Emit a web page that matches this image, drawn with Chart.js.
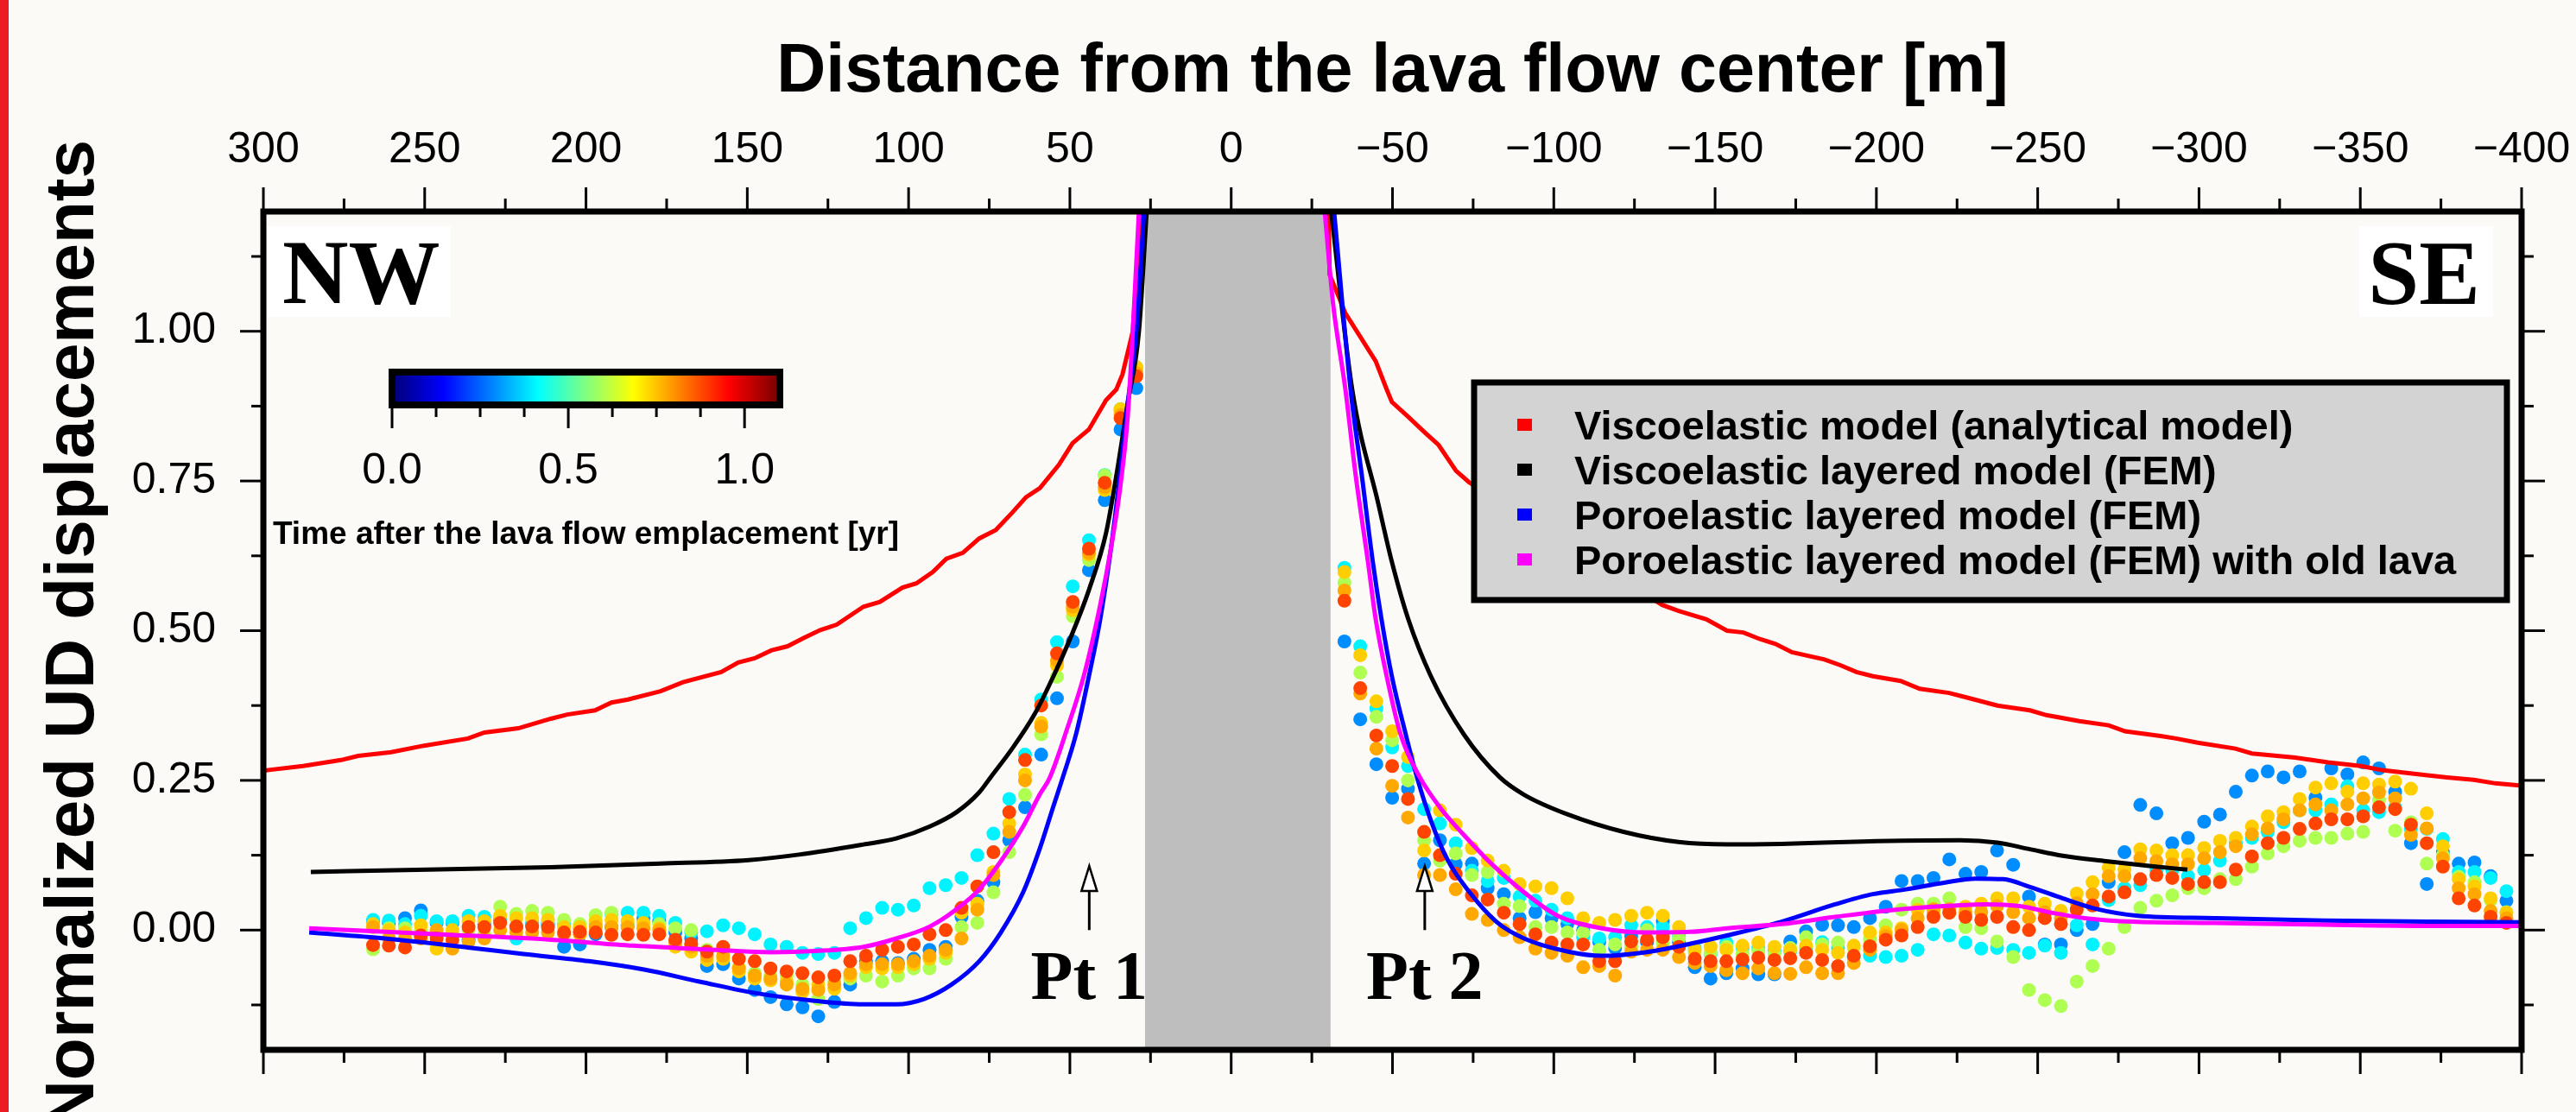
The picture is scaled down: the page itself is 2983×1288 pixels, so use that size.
<!DOCTYPE html>
<html>
<head>
<meta charset="utf-8">
<script src="https://cdn.jsdelivr.net/npm/chart.js@4.4.1/dist/chart.umd.min.js"></script>
<style>
html,body{margin:0;padding:0;background:#fcfaf7;}
canvas{display:block;}
</style>
</head>
<body>
<canvas id="c" width="2983" height="1288"></canvas>
<script>
// ---------------- DATA ----------------
const X_TITLE = 'Distance from the lava flow center [m]';
const Y_TITLE = 'Normalized UD displacements';
const CB_TITLE = 'Time after the lava flow emplacement [yr]';
const SERIES_LABELS = ['Viscoelastic model (analytical model)', 'Viscoelastic layered model (FEM)', 'Poroelastic layered model (FEM)', 'Poroelastic layered model (FEM) with old lava'];
const SERIES_COLORS = ['#ff0000', '#000000', '#0000ff', '#ff00ff'];
const X_TICKS = [300, 275, 250, 225, 200, 175, 150, 125, 100, 75, 50, 25, 0, -25, -50, -75, -100, -125, -150, -175, -200, -225, -250, -275, -300, -325, -350, -375, -400];
const Y_TICKS = [-0.125, 0, 0.125, 0.25, 0.375, 0.5, 0.625, 0.75, 0.875, 1.0, 1.125];
const CB_TICKS = [0, 0.125, 0.25, 0.375, 0.5, 0.625, 0.75, 0.875, 1.0];
const CB_LABELS = [0, 0.5, 1.0];
const CB_RANGE = [0, 1.1];
const LAVA_BAND = [26.7, -30.8];
const PT_X = [44, -60];
const PT_LABELS = ['Pt 1', 'Pt 2'];
const CORNER_LABELS = ['NW', 'SE'];

// observation epochs (yr) of the coloured points
const TIMES = [0.29, 0.40, 0.60, 0.74, 0.78, 0.89];

const X_LEFT = [266.0, 261.1, 256.1, 251.2, 246.3, 241.4, 236.4, 231.5, 226.6, 221.6, 216.7, 211.8, 206.8, 201.9, 197.0, 192.1, 187.1, 182.2, 177.3, 172.3, 167.4, 162.5, 157.5, 152.6, 147.7, 142.8, 137.8, 132.9, 128.0, 123.0, 118.1, 113.2, 108.2, 103.3, 98.4, 93.5, 88.5, 83.6, 78.7, 73.7, 68.8, 63.9, 58.9, 54.0, 49.1, 44.1, 39.2, 34.3, 29.4];
const X_RIGHT = [-35.1, -40.0, -45.0, -49.9, -54.8, -59.8, -64.7, -69.6, -74.6, -79.5, -84.5, -89.4, -94.3, -99.3, -104.2, -109.1, -114.1, -119.0, -124.0, -128.9, -133.8, -138.8, -143.7, -148.6, -153.5, -158.5, -163.4, -168.4, -173.3, -178.2, -183.2, -188.1, -193.0, -198.0, -202.9, -207.8, -212.8, -217.7, -222.6, -227.6, -232.5, -237.4, -242.4, -247.3, -252.2, -257.2, -262.1, -267.0, -272.0, -276.9, -281.8, -286.8, -291.7, -296.6, -301.6, -306.5, -311.4, -316.4, -321.3, -326.2, -331.2, -336.1, -341.0, -346.0, -350.9, -355.8, -360.8, -365.7, -370.6, -375.6, -380.5, -385.4, -390.4, -395.3];

const T1_LEFT = [0.015,0.012,0.020,0.033,0.012,0.012,-0.016,0.010,0.017,0.005,0.008,0.008,-0.028,-0.024,-0.007,0.005,0.008,0.020,0.015,-0.004,-0.014,-0.060,-0.057,-0.081,-0.100,-0.112,-0.124,-0.129,-0.144,-0.120,-0.091,-0.052,-0.052,-0.055,-0.048,-0.033,-0.028,0.022,0.049,0.080,0.150,0.205,0.293,0.387,0.482,0.601,0.718,0.836,0.905];
const T2_LEFT = [0.017,0.016,0.010,0.024,0.015,0.015,0.024,0.022,0.020,-0.014,0.012,0.012,0.010,0.003,0.010,0.027,0.029,0.029,0.024,0.012,-0.004,-0.002,0.008,0.003,-0.007,-0.024,-0.028,-0.038,-0.040,-0.038,0.003,0.020,0.037,0.034,0.041,0.070,0.075,0.087,0.125,0.161,0.219,0.293,0.385,0.481,0.574,0.651,0.760,0.870,0.940];
const T3_LEFT = [-0.032,0.003,0.003,-0.002,-0.007,-0.007,0.000,-0.007,0.039,0.027,0.032,0.029,0.017,0.010,0.025,0.029,0.010,0.008,0.010,0.003,0.000,-0.033,-0.033,-0.062,-0.072,-0.076,-0.076,-0.091,-0.115,-0.086,-0.081,-0.076,-0.086,-0.076,-0.064,-0.064,-0.048,0.005,0.012,0.063,0.130,0.226,0.327,0.423,0.524,0.618,0.759,0.867,0.935];
const T4_LEFT = [0.010,0.000,-0.004,0.008,-0.031,0.000,0.015,0.015,0.024,0.020,0.020,0.017,0.005,0.005,0.015,0.017,0.015,0.012,0.003,-0.028,-0.036,-0.050,-0.048,-0.069,-0.081,-0.084,-0.086,-0.103,-0.091,-0.098,-0.076,-0.062,-0.064,-0.062,-0.057,-0.048,-0.038,0.029,0.044,0.097,0.178,0.260,0.346,0.442,0.534,0.627,0.735,0.870,0.940];
const T5_LEFT = [0.005,-0.014,-0.014,-0.014,0.000,-0.031,-0.019,-0.014,0.000,-0.004,-0.004,-0.004,-0.007,-0.007,0.005,0.005,0.005,0.003,0.000,-0.021,-0.028,-0.043,-0.043,-0.064,-0.076,-0.081,-0.091,-0.098,-0.100,-0.091,-0.072,-0.057,-0.057,-0.057,-0.052,-0.043,-0.033,-0.014,0.034,0.092,0.164,0.250,0.340,0.450,0.540,0.630,0.740,0.860,0.930];
const T6_LEFT = [-0.025,-0.026,-0.029,-0.009,-0.014,-0.016,0.005,0.005,0.012,0.006,0.006,0.005,-0.004,-0.003,-0.004,-0.008,-0.007,-0.008,-0.007,-0.016,-0.023,-0.036,-0.028,-0.048,-0.052,-0.064,-0.069,-0.072,-0.079,-0.076,-0.052,-0.043,-0.033,-0.028,-0.024,-0.007,0.000,0.037,0.073,0.130,0.197,0.284,0.375,0.462,0.548,0.637,0.747,0.855,0.925];

const T1_RIGHT = [0.482,0.352,0.277,0.221,0.236,0.111,0.150,0.110,0.111,0.070,0.060,0.020,0.030,0.020,0.010,0.000,-0.020,-0.030,-0.010,-0.020,0.015,-0.020,-0.062,-0.081,-0.072,-0.064,-0.074,-0.074,-0.019,-0.002,0.009,0.008,0.005,0.020,0.039,0.082,0.082,0.087,0.118,0.094,0.097,0.133,0.109,0.056,-0.024,-0.024,0.000,0.010,0.080,0.130,0.209,0.195,0.145,0.154,0.181,0.193,0.231,0.258,0.265,0.255,0.265,0.221,0.270,0.260,0.280,0.270,0.231,0.145,0.077,0.130,0.111,0.113,0.090,0.049];
const T2_RIGHT = [0.605,0.474,0.370,0.305,0.274,0.202,0.178,0.145,0.099,0.082,0.087,0.056,0.049,0.034,0.020,-0.012,-0.014,-0.012,0.008,0.005,0.005,-0.010,-0.030,-0.040,-0.021,-0.030,-0.030,-0.035,-0.035,-0.030,-0.020,-0.030,-0.045,-0.043,-0.045,-0.043,-0.033,-0.007,-0.009,-0.021,-0.031,-0.030,-0.033,-0.038,-0.026,-0.038,0.008,-0.024,0.050,0.070,0.075,0.100,0.100,0.090,0.100,0.116,0.145,0.154,0.164,0.180,0.200,0.200,0.210,0.240,0.200,0.197,0.205,0.169,0.169,0.152,0.097,0.097,0.087,0.065];
const T3_RIGHT = [0.580,0.430,0.356,0.317,0.250,0.150,0.116,0.128,0.092,0.097,0.044,0.040,0.005,0.005,-0.004,-0.004,-0.033,-0.024,-0.028,0.000,-0.021,-0.014,-0.038,-0.038,-0.028,-0.040,-0.035,-0.040,-0.030,-0.012,-0.024,-0.021,-0.030,-0.015,0.008,0.034,0.044,0.044,0.053,0.005,0.003,-0.019,-0.045,-0.100,-0.117,-0.127,-0.086,-0.060,-0.031,0.005,0.037,0.049,0.058,0.070,0.070,0.085,0.085,0.106,0.128,0.140,0.149,0.154,0.154,0.161,0.164,0.217,0.166,0.180,0.111,0.125,0.089,0.080,0.050,0.030];
const T4_RIGHT = [0.598,0.459,0.382,0.332,0.289,0.133,0.200,0.176,0.137,0.116,0.099,0.077,0.073,0.070,0.053,0.020,0.012,0.017,0.024,0.029,0.024,0.005,-0.033,-0.028,-0.033,-0.026,-0.021,-0.028,-0.033,-0.026,-0.033,-0.038,-0.026,-0.004,-0.004,0.003,0.034,0.029,0.029,0.039,0.044,0.053,0.053,0.039,0.044,0.032,0.061,0.080,0.104,0.101,0.135,0.133,0.125,0.125,0.137,0.149,0.154,0.173,0.190,0.197,0.219,0.238,0.245,0.231,0.245,0.243,0.248,0.236,0.195,0.140,0.085,0.073,0.053,0.029];
const T5_RIGHT = [0.567,0.395,0.303,0.241,0.188,0.092,0.092,0.068,0.027,0.017,0.000,-0.012,-0.031,-0.038,-0.043,-0.062,-0.060,-0.076,-0.036,-0.033,-0.033,-0.045,-0.055,-0.060,-0.067,-0.072,-0.064,-0.072,-0.073,-0.062,-0.072,-0.072,-0.055,-0.033,-0.010,0.000,0.020,0.035,0.035,0.030,0.030,0.040,0.030,0.020,0.030,0.020,0.045,0.060,0.090,0.090,0.120,0.115,0.110,0.110,0.120,0.130,0.140,0.160,0.170,0.185,0.200,0.210,0.200,0.210,0.220,0.230,0.220,0.159,0.170,0.120,0.070,0.060,0.032,0.020];
const T6_RIGHT = [0.550,0.404,0.325,0.274,0.219,0.164,0.125,0.094,0.058,0.051,0.029,0.010,-0.007,-0.021,-0.024,-0.024,-0.052,-0.052,-0.019,-0.016,-0.012,-0.028,-0.048,-0.052,-0.052,-0.049,-0.046,-0.050,-0.047,-0.038,-0.050,-0.060,-0.043,-0.027,-0.016,-0.009,0.005,0.022,0.029,0.022,0.017,0.022,0.005,0.000,0.020,0.010,0.034,0.041,0.056,0.063,0.085,0.092,0.087,0.077,0.080,0.080,0.101,0.123,0.145,0.154,0.169,0.178,0.185,0.185,0.190,0.205,0.202,0.176,0.145,0.106,0.053,0.041,0.022,0.012];

// model curves
const RED_L_X = [300, 298.9, 287.7, 275.9, 270.6, 260.4, 250.2, 236.6, 231.5, 221.0, 210.9, 205.8, 197.2, 192.1, 187.0, 176.9, 169.9, 158.1, 152.8, 147.7, 142.6, 137.5, 132.4, 127.4, 122.3, 114.0, 108.9, 101.9, 97.6, 92.5, 88.3, 83.2, 78.1, 73.0, 67.9, 63.6, 59.3, 53.4, 49.2, 44.1, 38.8, 35.6, 33.7, 30.5, 28.0];
const RED_L_Y = [0.265, 0.267, 0.274, 0.284, 0.291, 0.297, 0.308, 0.320, 0.330, 0.337, 0.353, 0.360, 0.367, 0.380, 0.385, 0.399, 0.414, 0.431, 0.447, 0.454, 0.467, 0.474, 0.488, 0.501, 0.510, 0.540, 0.548, 0.572, 0.579, 0.598, 0.620, 0.630, 0.654, 0.668, 0.697, 0.723, 0.738, 0.777, 0.813, 0.836, 0.885, 0.903, 0.928, 1.000, 1.200];
const RED_R_X = [-30.2, -30.5, -35.4, -44.8, -48.2, -49.8, -54.9, -60.0, -64.3, -69.7, -73.7, -133.6, -138.7, -147.3, -153.7, -158.8, -163.9, -168.7, -173.8, -183.9, -189.0, -193.8, -198.9, -207.5, -213.4, -222.5, -227.6, -237.5, -247.6, -252.7, -262.9, -272.0, -277.1, -288.1, -292.9, -299.6, -311.3, -316.4, -329.8, -340.0, -350.2, -356.8, -370.2, -376.9, -385.2, -391.9, -400.0];
const RED_R_Y = [1.200, 1.095, 1.030, 0.950, 0.903, 0.882, 0.857, 0.831, 0.810, 0.767, 0.748, 0.543, 0.533, 0.519, 0.500, 0.497, 0.486, 0.478, 0.464, 0.452, 0.442, 0.431, 0.424, 0.416, 0.403, 0.396, 0.389, 0.375, 0.367, 0.359, 0.349, 0.342, 0.332, 0.324, 0.320, 0.313, 0.303, 0.295, 0.288, 0.280, 0.274, 0.267, 0.259, 0.255, 0.251, 0.245, 0.241];

const BLACK_L_X = [285.3, 249.0, 210.9, 176.9, 149.6, 134.0, 114.0, 103.8, 93.4, 85.1, 78.1, 74.6, 67.9, 61.0, 55.1, 49.2, 44.1, 38.8, 35.6, 32.1, 28.6, 26.2];
const BLACK_L_Y = [0.097, 0.101, 0.105, 0.111, 0.117, 0.126, 0.143, 0.153, 0.173, 0.197, 0.230, 0.255, 0.303, 0.360, 0.424, 0.496, 0.568, 0.663, 0.759, 0.879, 1.000, 1.200];
const BLACK_R_X = [-31.0, -37.5, -45.6, -49.8, -54.9, -61.9, -72.1, -83.3, -90.8, -104.4, -121.6, -138.7, -153.7, -170.6, -195.7, -226.0, -237.5, -247.6, -257.8, -271.2, -284.6, -296.4];
const BLACK_R_Y = [1.200, 0.903, 0.712, 0.615, 0.519, 0.424, 0.327, 0.255, 0.226, 0.193, 0.164, 0.147, 0.143, 0.144, 0.148, 0.150, 0.146, 0.135, 0.124, 0.115, 0.107, 0.101];

const BLUE_L_X = [285.8, 262.3, 236.6, 219.4, 199.1, 182.0, 164.8, 147.7, 130.8, 114.0, 103.8, 95.2, 86.7, 78.1, 71.4, 64.5, 59.4, 55.1, 52.2, 48.1, 44.1, 40.6, 37.2, 34.5, 32.1, 29.4, 27.0];
const BLUE_L_Y = [-0.004, -0.014, -0.029, -0.040, -0.052, -0.066, -0.086, -0.105, -0.117, -0.124, -0.124, -0.115, -0.091, -0.052, -0.004, 0.063, 0.135, 0.207, 0.255, 0.327, 0.424, 0.519, 0.640, 0.759, 0.879, 1.000, 1.200];
const BLUE_R_X = [-31.9, -37.0, -40.5, -43.9, -46.6, -49.8, -54.1, -57.6, -61.9, -67.0, -73.9, -82.2, -90.8, -104.4, -114.9, -128.5, -142.2, -153.7, -170.6, -187.2, -198.9, -209.1, -220.9, -230.8, -239.3, -247.6, -257.8, -267.7, -281.1, -304.7, -338.4, -371.8, -400.0];
const BLUE_R_Y = [1.200, 0.903, 0.759, 0.615, 0.519, 0.424, 0.327, 0.255, 0.183, 0.118, 0.063, 0.014, -0.014, -0.036, -0.043, -0.037, -0.023, -0.009, 0.014, 0.043, 0.060, 0.068, 0.079, 0.086, 0.085, 0.072, 0.053, 0.036, 0.024, 0.020, 0.016, 0.014, 0.013];

const MAG_L_X = [285.8, 245.1, 210.9, 185.4, 159.7, 142.6, 128.9, 114.0, 103.8, 93.4, 85.1, 78.1, 71.4, 64.5, 59.4, 56.2, 50.8, 45.7, 40.6, 37.2, 34.5, 32.1, 30.5, 28.6];
const MAG_L_Y = [0.003, -0.007, -0.016, -0.026, -0.033, -0.037, -0.035, -0.028, -0.014, 0.006, 0.035, 0.068, 0.115, 0.173, 0.226, 0.255, 0.337, 0.424, 0.543, 0.640, 0.735, 0.856, 1.000, 1.200];
const MAG_R_X = [-29.0, -31.5, -35.4, -38.6, -42.4, -44.8, -48.2, -52.5, -58.5, -65.4, -72.1, -80.6, -90.8, -101.2, -114.9, -128.5, -142.2, -153.7, -170.6, -187.2, -204.0, -220.9, -234.3, -244.4, -254.3, -264.5, -279.5, -304.7, -338.4, -371.8, -400.0];
const MAG_R_Y = [1.200, 1.050, 0.903, 0.759, 0.615, 0.519, 0.424, 0.327, 0.255, 0.200, 0.159, 0.111, 0.063, 0.024, 0.003, -0.004, -0.003, 0.003, 0.010, 0.022, 0.033, 0.040, 0.043, 0.040, 0.029, 0.020, 0.014, 0.012, 0.009, 0.007, 0.007];

// ---------------- HELPERS ----------------
const BG = '#fcfaf7';
const FONT = '"Liberation Sans", Arial, Helvetica, sans-serif';
const SERIF = '"Liberation Serif", "Times New Roman", Times, serif';
function clamp01(v) { return Math.max(0, Math.min(1, v)); }
function jet(p) {
  const r = clamp01(Math.min(4 * p - 1.5, -4 * p + 4.5));
  const g = clamp01(Math.min(4 * p - 0.5, -4 * p + 3.5));
  const b = clamp01(Math.min(4 * p + 0.5, -4 * p + 2.5));
  return 'rgb(' + Math.round(r * 255) + ',' + Math.round(g * 255) + ',' + Math.round(b * 255) + ')';
}
function pts(xs, ys) { return xs.map((x, i) => ({ x: x, y: ys[i] })); }
function isMajor(v, step) { const q = v / step; return Math.abs(q - Math.round(q)) < 1e-6; }
function fmtX(v) { if (v === 0) return '0'; return v < 0 ? '\u2212' + Math.abs(v) : String(v); }
function noPad(s) { s.paddingLeft = 0; s.paddingRight = 0; s.paddingTop = 0; s.paddingBottom = 0; }

const LEFT_SERIES = [T1_LEFT, T2_LEFT, T3_LEFT, T4_LEFT, T5_LEFT, T6_LEFT];
const RIGHT_SERIES = [T1_RIGHT, T2_RIGHT, T3_RIGHT, T4_RIGHT, T5_RIGHT, T6_RIGHT];

const datasets = [];
function lineDs(label, color, xs, ys, order, smooth) {
  return { type: 'scatter', label: label, data: pts(xs, ys), showLine: true, borderColor: color, backgroundColor: color,
    borderWidth: 5, pointRadius: 0, pointHoverRadius: 0, fill: false, order: order,
    cubicInterpolationMode: smooth ? 'monotone' : 'default', tension: 0 };
}
datasets.push(lineDs(SERIES_LABELS[3], SERIES_COLORS[3], MAG_L_X, MAG_L_Y, 0, true));
datasets.push(lineDs(SERIES_LABELS[3], SERIES_COLORS[3], MAG_R_X, MAG_R_Y, 0, true));
datasets.push(lineDs(SERIES_LABELS[2], SERIES_COLORS[2], BLUE_L_X, BLUE_L_Y, 1, true));
datasets.push(lineDs(SERIES_LABELS[2], SERIES_COLORS[2], BLUE_R_X, BLUE_R_Y, 1, true));
datasets.push(lineDs(SERIES_LABELS[1], SERIES_COLORS[1], BLACK_L_X, BLACK_L_Y, 2, true));
datasets.push(lineDs(SERIES_LABELS[1], SERIES_COLORS[1], BLACK_R_X, BLACK_R_Y, 2, true));
datasets.push(lineDs(SERIES_LABELS[0], SERIES_COLORS[0], RED_L_X, RED_L_Y, 3, false));
datasets.push(lineDs(SERIES_LABELS[0], SERIES_COLORS[0], RED_R_X, RED_R_Y, 3, false));
TIMES.forEach((t, i) => {
  const col = jet(t / CB_RANGE[1]);
  datasets.push({ type: 'scatter', label: t + ' yr', data: pts(X_LEFT, LEFT_SERIES[i]).concat(pts(X_RIGHT, RIGHT_SERIES[i])),
    backgroundColor: col, borderWidth: 0, pointRadius: 8, pointHoverRadius: 8, order: 20 - i });
});

// ---------------- PLUGIN (decorations) ----------------
function line(ctx, x1, y1, x2, y2) { ctx.beginPath(); ctx.moveTo(x1, y1); ctx.lineTo(x2, y2); ctx.stroke(); }

const deco = {
  id: 'deco',
  beforeDraw(chart) {
    const ctx = chart.ctx;
    ctx.save();
    ctx.fillStyle = BG; ctx.fillRect(0, 0, chart.width, chart.height);
    ctx.fillStyle = '#ed1c24'; ctx.fillRect(0, 0, 10, chart.height);
    ctx.restore();
  },
  beforeDatasetsDraw(chart) {
    const { ctx, chartArea: a, scales: { x } } = chart;
    const x1 = x.getPixelForValue(LAVA_BAND[0]), x2 = x.getPixelForValue(LAVA_BAND[1]);
    ctx.save();
    ctx.fillStyle = '#bebebe';
    ctx.fillRect(Math.min(x1, x2), a.top, Math.abs(x2 - x1), a.bottom - a.top);
    ctx.restore();
  },
  afterDatasetsDraw(chart) {
    const { ctx, chartArea: a, scales: { x, y } } = chart;
    ctx.save();
    // y axis title (rotated, centred on plot area)
    ctx.fillStyle = '#000';
    ctx.font = 'bold 80px ' + FONT;
    ctx.textAlign = 'center'; ctx.textBaseline = 'alphabetic';
    ctx.save(); ctx.translate(108, (a.top + a.bottom) / 2 + 5); ctx.rotate(-Math.PI / 2);
    ctx.fillText(Y_TITLE, 0, 0); ctx.restore();

    // corner labels
    ctx.fillStyle = '#ffffff';
    ctx.fillRect(a.left + 4, a.top + 17, 213, 105);
    ctx.fillRect(a.right - 188, a.top + 17, 155, 105);
    ctx.fillStyle = '#000';
    ctx.font = 'bold 106px ' + SERIF;
    ctx.textAlign = 'left'; ctx.fillText(CORNER_LABELS[0], a.left + 22, a.top + 106);
    ctx.textAlign = 'right'; ctx.fillText(CORNER_LABELS[1], a.right - 48, a.top + 107);

    // Pt arrows
    PT_X.forEach((v, i) => {
      const px = x.getPixelForValue(v);
      const yb = y.getPixelForValue(0), yt = y.getPixelForValue(0.107);
      const hl = 29, hw = 9;
      ctx.strokeStyle = '#000'; ctx.lineWidth = 3;
      line(ctx, px, yb, px, yt + hl);
      ctx.beginPath(); ctx.moveTo(px, yt); ctx.lineTo(px - hw, yt + hl); ctx.lineTo(px + hw, yt + hl); ctx.closePath();
      ctx.fillStyle = '#ffffff'; ctx.fill(); ctx.lineWidth = 2.5; ctx.stroke();
      ctx.fillStyle = '#000'; ctx.font = 'bold 80px ' + SERIF; ctx.textAlign = 'center';
      ctx.fillText(PT_LABELS[i], px, y.getPixelForValue(-0.115));
    });

    // legend
    const L = { left: 1707, top: 443, w: 1196, h: 252 };
    ctx.fillStyle = '#d3d3d3'; ctx.fillRect(L.left, L.top, L.w, L.h);
    ctx.strokeStyle = '#000'; ctx.lineWidth = 7; ctx.strokeRect(L.left, L.top, L.w, L.h);
    ctx.font = 'bold 47px ' + FONT; ctx.textAlign = 'left';
    SERIES_LABELS.forEach((lab, i) => {
      const base = L.top + 66 + i * 52;
      ctx.fillStyle = SERIES_COLORS[i];
      ctx.fillRect(L.left + 50, base - 24, 17, 14);
      ctx.fillStyle = '#000';
      ctx.fillText(lab, L.left + 116, base);
    });

    // colour bar
    const CB = { left: 454, right: 903, top: 431, bottom: 469 };
    const cbx = v => CB.left + (v - CB_RANGE[0]) / (CB_RANGE[1] - CB_RANGE[0]) * (CB.right - CB.left);
    const grad = ctx.createLinearGradient(CB.left + 4, 0, CB.right - 4, 0);
    for (let k = 0; k <= 40; k++) grad.addColorStop(k / 40, jet(k / 40));
    ctx.fillStyle = grad; ctx.fillRect(CB.left, CB.top, CB.right - CB.left, CB.bottom - CB.top);
    ctx.lineWidth = 8; ctx.strokeStyle = '#000'; ctx.strokeRect(CB.left, CB.top, CB.right - CB.left, CB.bottom - CB.top);
    ctx.lineWidth = 3;
    CB_TICKS.forEach(v => { const px = cbx(v); line(ctx, px, CB.bottom + 4, px, CB.bottom + (isMajor(v, 0.5) ? 27 : 14)); });
    ctx.fillStyle = '#000'; ctx.font = '50px ' + FONT; ctx.textAlign = 'center';
    CB_LABELS.forEach(v => ctx.fillText(v.toFixed(1), cbx(v), 560));
    ctx.font = 'bold 37px ' + FONT;
    ctx.fillText(CB_TITLE, (CB.left + CB.right) / 2, 630);

    // tick marks on all four sides
    ctx.strokeStyle = '#000'; ctx.lineWidth = 3;
    X_TICKS.forEach(v => {
      const px = x.getPixelForValue(v); const len = isMajor(v, 50) ? 28 : 15;
      line(ctx, px, a.top, px, a.top - len);
      line(ctx, px, a.bottom, px, a.bottom + len);
    });
    Y_TICKS.forEach(v => {
      const py = y.getPixelForValue(v); const len = isMajor(v, 0.25) ? 27 : 14;
      line(ctx, a.left - len, py, a.left, py);
      line(ctx, a.right, py, a.right + len, py);
    });
    // frame
    ctx.lineWidth = 7; ctx.strokeRect(a.left, a.top, a.right - a.left, a.bottom - a.top);
    ctx.restore();
  }
};

Chart.defaults.font.family = FONT;
Chart.defaults.color = '#000';

new Chart(document.getElementById('c'), {
  type: 'scatter',
  data: { datasets: datasets },
  plugins: [deco],
  options: {
    responsive: false, animation: false, devicePixelRatio: 1, events: [],
    layout: { padding: { left: 0, top: 0, right: 63, bottom: 72 } },
    plugins: { legend: { display: false }, tooltip: { enabled: false }, title: { display: false } },
    scales: {
      x: {
        type: 'linear', position: 'top', min: -400, max: 300, reverse: true,
        afterBuildTicks: s => { s.ticks = X_TICKS.map(v => ({ value: v })); },
        afterFit: s => { s.height = 245; noPad(s); },
        grid: { display: false, drawTicks: false }, border: { display: false },
        ticks: { autoSkip: false, maxRotation: 0, minRotation: 0, padding: 41, color: '#000',
          font: { family: FONT, size: 50 }, callback: v => isMajor(v, 50) ? fmtX(v) : '' },
        title: { display: true, text: X_TITLE, color: '#000', font: { family: FONT, size: 79, weight: 'bold' },
          padding: { top: 37, bottom: 0 } }
      },
      y: {
        type: 'linear', position: 'left', min: -0.2, max: 1.2,
        afterBuildTicks: s => { s.ticks = Y_TICKS.map(v => ({ value: v })); },
        afterFit: s => { s.width = 305; noPad(s); },
        grid: { display: false, drawTicks: false }, border: { display: false },
        ticks: { autoSkip: false, padding: 55, color: '#000', font: { family: FONT, size: 50 },
          callback: v => isMajor(v, 0.25) ? v.toFixed(2) : '' }
      }
    }
  }
});
</script>
</body>
</html>
